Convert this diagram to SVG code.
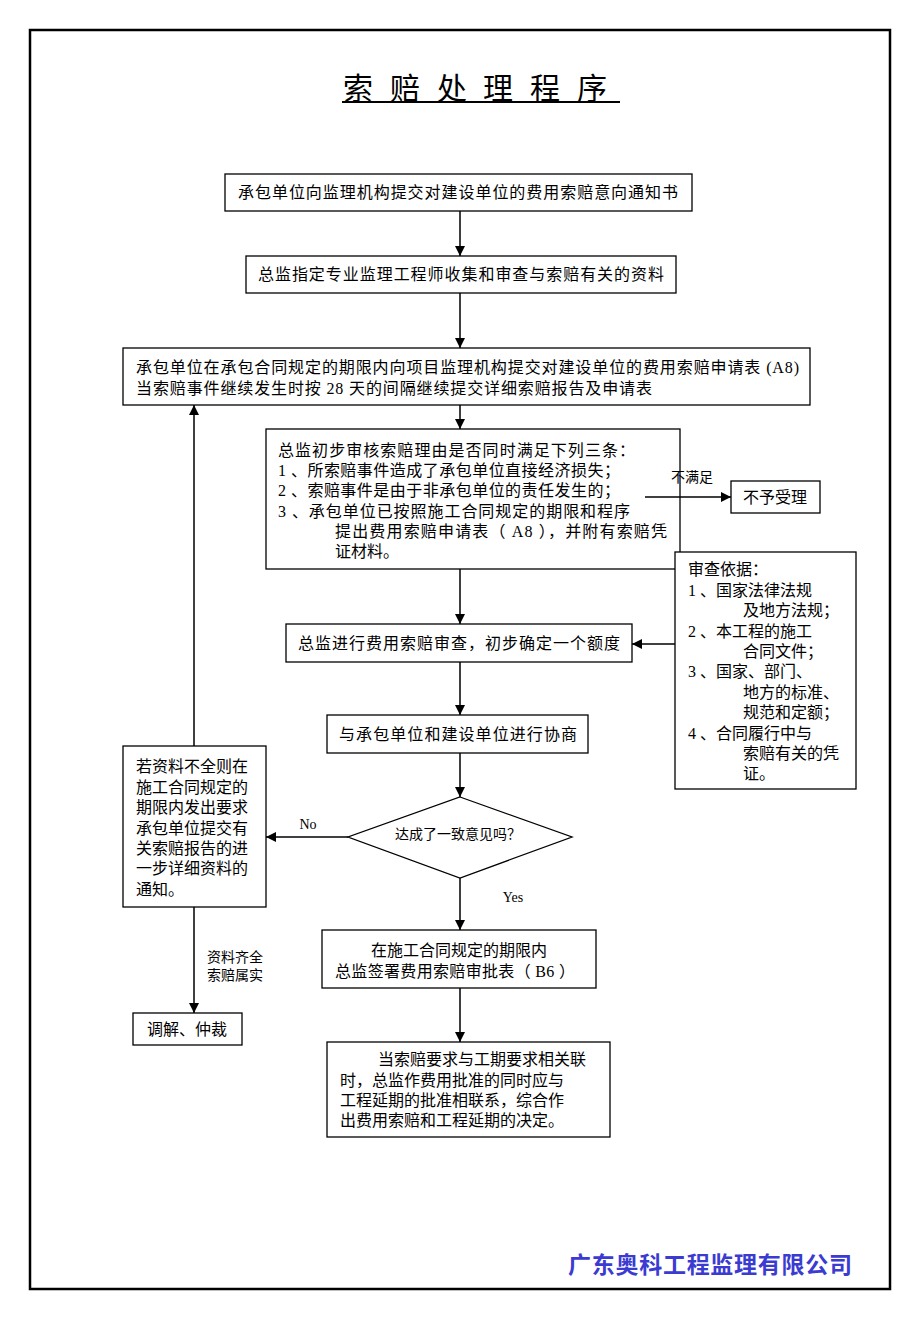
<svg xmlns="http://www.w3.org/2000/svg" width="920" height="1329" viewBox="0 0 920 1329">
<style>
.t{font-family:"Liberation Serif","Noto Sans CJK SC",serif;font-size:16px;fill:#000}
.s{font-family:"Liberation Serif","Noto Sans CJK SC",serif;font-size:14px;fill:#000}
.c{text-anchor:middle}
.b{fill:#fff;stroke:#000;stroke-width:1.3}
.l{stroke:#000;stroke-width:1.5;fill:none}
</style>
<defs>
<marker id="ah" viewBox="0 0 10 10" refX="10" refY="5" markerWidth="10" markerHeight="10" markerUnits="userSpaceOnUse" orient="auto">
<path d="M0,0 L10,5 L0,10 z" fill="#000"/>
</marker>
</defs>
<rect x="0" y="0" width="920" height="1329" fill="#fff"/>
<rect x="30" y="30" width="860" height="1259" fill="none" stroke="#000" stroke-width="2.5"/>
<g id="title">
<text x="343 390 437 483 530 577" y="99" font-family="'Noto Sans CJK SC',sans-serif" font-size="30" fill="#000">索赔处理程序</text>
<line x1="342" y1="102" x2="620" y2="102" stroke="#000" stroke-width="2"/>
</g>
<g id="n1">
<rect class="b" x="225" y="174" width="467" height="37"/>
<text class="t c" x="458" y="198" textLength="440">承包单位向监理机构提交对建设单位的费用索赔意向通知书</text>
</g>
<g id="n2">
<rect class="b" x="246" y="256" width="430" height="37"/>
<text class="t c" x="461" y="280" textLength="406">总监指定专业监理工程师收集和审查与索赔有关的资料</text>
</g>
<g id="n3">
<rect class="b" x="123" y="348" width="687" height="57"/>
<text class="t" x="136" y="373" textLength="663">承包单位在承包合同规定的期限内向项目监理机构提交对建设单位的费用索赔申请表 (A8)</text>
<text class="t" x="136" y="394" textLength="516">当索赔事件继续发生时按 28 天的间隔继续提交详细索赔报告及申请表</text>
</g>
<g id="n4">
<rect class="b" x="266" y="429" width="414" height="140"/>
<text class="t" x="278" y="456" textLength="357">总监初步审核索赔理由是否同时满足下列三条：</text>
<text class="t" x="278" y="476" textLength="342">1 、所索赔事件造成了承包单位直接经济损失；</text>
<text class="t" x="278" y="496" textLength="342">2 、索赔事件是由于非承包单位的责任发生的；</text>
<text class="t" x="278" y="517" textLength="352">3 、承包单位已按照施工合同规定的期限和程序</text>
<text class="t" x="335" y="537" textLength="332">提出费用索赔申请表（ A8 ），并附有索赔凭</text>
<text class="t" x="335" y="557">证材料。</text>
</g>
<g id="n5">
<rect class="b" x="731" y="481" width="89" height="32"/>
<text class="t c" x="775" y="503">不予受理</text>
</g>
<g id="n6">
<rect class="b" x="675" y="552" width="181" height="237"/>
<text class="t" x="688" y="575">审查依据：</text>
<text class="t" x="688" y="596">1 、国家法律法规</text>
<text class="t" x="743" y="616">及地方法规；</text>
<text class="t" x="688" y="637">2 、本工程的施工</text>
<text class="t" x="743" y="657">合同文件；</text>
<text class="t" x="688" y="677">3 、国家、部门、</text>
<text class="t" x="743" y="698">地方的标准、</text>
<text class="t" x="743" y="718">规范和定额；</text>
<text class="t" x="688" y="739">4 、合同履行中与</text>
<text class="t" x="743" y="759">索赔有关的凭</text>
<text class="t" x="743" y="779">证。</text>
</g>
<g id="n7">
<rect class="b" x="286" y="624" width="346" height="38"/>
<text class="t c" x="459" y="649" textLength="322">总监进行费用索赔审查，初步确定一个额度</text>
</g>
<g id="n8">
<rect class="b" x="327" y="715" width="261" height="38"/>
<text class="t c" x="458" y="740" textLength="238">与承包单位和建设单位进行协商</text>
</g>
<g id="n9">
<polygon points="460,797 572,837 460,878 348,837" fill="#fff" stroke="#000" stroke-width="1.3"/>
<text class="s c" x="458" y="839">达成了一致意见吗？</text>
</g>
<g id="n10">
<rect class="b" x="123" y="746" width="143" height="161"/>
<text class="t" x="136" y="772">若资料不全则在</text>
<text class="t" x="136" y="793">施工合同规定的</text>
<text class="t" x="136" y="813">期限内发出要求</text>
<text class="t" x="136" y="834">承包单位提交有</text>
<text class="t" x="136" y="854">关索赔报告的进</text>
<text class="t" x="136" y="874">一步详细资料的</text>
<text class="t" x="136" y="895">通知。</text>
</g>
<g id="n11">
<rect class="b" x="133" y="1013" width="109" height="32"/>
<text class="t c" x="187" y="1035">调解、仲裁</text>
</g>
<g id="n12">
<rect class="b" x="322" y="930" width="274" height="58"/>
<text class="t c" x="459" y="956">在施工合同规定的期限内</text>
<text class="t c" x="455" y="977" textLength="240">总监签署费用索赔审批表（ B6 ）</text>
</g>
<g id="n13">
<rect class="b" x="327" y="1042" width="283" height="95"/>
<text class="t" x="378" y="1065">当索赔要求与工期要求相关联</text>
<text class="t" x="340" y="1086">时，总监作费用批准的同时应与</text>
<text class="t" x="340" y="1106">工程延期的批准相联系，综合作</text>
<text class="t" x="340" y="1126">出费用索赔和工程延期的决定。</text>
</g>
<g id="connectors">
<line class="l" x1="460" y1="211" x2="460" y2="256" marker-end="url(#ah)"/>
<line class="l" x1="460" y1="293" x2="460" y2="348" marker-end="url(#ah)"/>
<line class="l" x1="460" y1="405" x2="460" y2="429" marker-end="url(#ah)"/>
<line class="l" x1="645" y1="497" x2="731" y2="497" marker-end="url(#ah)"/>
<line class="l" x1="460" y1="569" x2="460" y2="624" marker-end="url(#ah)"/>
<line class="l" x1="675" y1="644" x2="632" y2="644" marker-end="url(#ah)"/>
<line class="l" x1="460" y1="662" x2="460" y2="715" marker-end="url(#ah)"/>
<line class="l" x1="460" y1="753" x2="460" y2="797" marker-end="url(#ah)"/>
<line class="l" x1="348" y1="837" x2="266" y2="837" marker-end="url(#ah)"/>
<line class="l" x1="194" y1="746" x2="194" y2="405" marker-end="url(#ah)"/>
<line class="l" x1="194" y1="907" x2="194" y2="1013" marker-end="url(#ah)"/>
<line class="l" x1="460" y1="878" x2="460" y2="930" marker-end="url(#ah)"/>
<line class="l" x1="460" y1="988" x2="460" y2="1042" marker-end="url(#ah)"/>
<text class="s" x="692" y="482" text-anchor="middle">不满足</text>
<text class="s" x="308" y="829" text-anchor="middle">No</text>
<text class="s" x="513" y="902" text-anchor="middle">Yes</text>
<text class="s" x="207" y="962">资料齐全</text>
<text class="s" x="207" y="980">索赔属实</text>
</g>
<text x="710" y="1273" text-anchor="middle" font-family="'Noto Sans CJK SC',sans-serif" font-weight="bold" font-size="23" fill="#3b3bd2" textLength="284">广东奥科工程监理有限公司</text>
</svg>
